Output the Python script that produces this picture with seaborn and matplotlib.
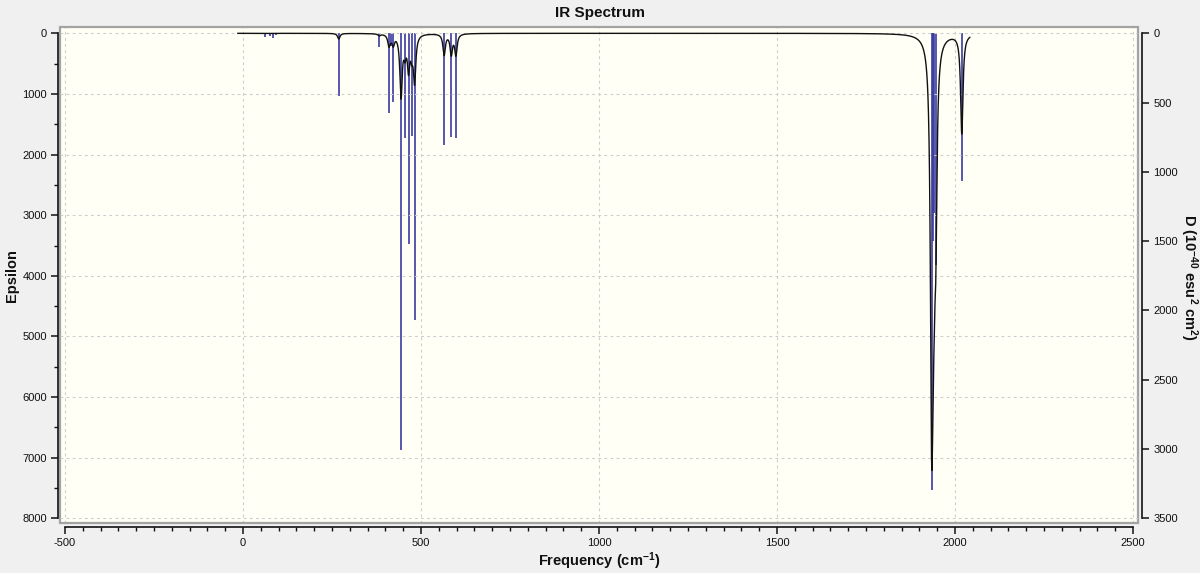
import numpy as np
import matplotlib
matplotlib.use("Agg")
import matplotlib.pyplot as plt
import seaborn as sns
from matplotlib.patches import Rectangle
from matplotlib.ticker import MultipleLocator

# ---- data ----
# IR stick frequencies (cm^-1) and dipole strengths D (1e-40 esu^2 cm^2)
stick_freq = [62, 76, 84, 93, 137, 151, 165, 269, 383, 410, 415, 422,
              444, 455, 465, 474, 482, 565, 585, 598,
              1934, 1937, 1941, 1946, 2019]
stick_D = [30, 22, 32, 15, 8, 6, 5, 451, 100, 576, 95, 494,
           3010, 758, 1521, 739, 2066, 806, 746, 758,
           3298, 1500, 1300, 1670, 1066]
# Lorentzian broadening used for the epsilon curve
hwhm = 4.0                 # cm^-1
eps_per_nuD = 7.6e-4       # peak epsilon per (cm^-1 * D unit)
curve_range = (-15, 2042)  # cm^-1 range of the drawn curve

x_ticks_major = 500
eps_ticks = [0, 1000, 2000, 3000, 4000, 5000, 6000, 7000, 8000]
d_ticks = [0, 500, 1000, 1500, 2000, 2500, 3000, 3500]

# ---- broadened spectrum from sticks ----
nu = np.linspace(curve_range[0], curve_range[1], 8000)
f = np.asarray(stick_freq, float)[:, None]
d = np.asarray(stick_D, float)[:, None]
eps = (eps_per_nuD * f * d / (1.0 + ((nu[None, :] - f) / hwhm) ** 2)).sum(axis=0)

# ---- styling ----
sns.set_theme(style="ticks")
plt.rcParams['font.family'] = ['Liberation Sans', 'DejaVu Sans']
plt.rcParams['mathtext.fontset'] = 'custom'
plt.rcParams['mathtext.rm'] = 'Liberation Sans'
plt.rcParams['mathtext.bf'] = 'Liberation Sans:bold'
plt.rcParams['mathtext.default'] = 'bf'
plt.rcParams['axes.unicode_minus'] = False

fig = plt.figure(figsize=(12, 5.73), dpi=100, facecolor='#f0f0f0')
ax_d = fig.add_axes([60 / 1200, 1 - 523.3 / 573, 1078 / 1200, 496 / 573])
ax_d.set_facecolor('#fffff6')
ax_eps = ax_d.twinx()

# sticks (right axis, D)
ax_d.vlines(stick_freq, 0, stick_D, color='#3a3aa0', lw=1.2, zorder=2)
# epsilon curve (left axis)
sns.lineplot(x=nu, y=eps, ax=ax_eps, color='#111111', lw=1.0,
             estimator=None, sort=False, zorder=3)

ax_d.set_xlim(-514, 2514)
ax_d.set_ylim(3536, -43.3)
ax_eps.set_ylim(8082, -99)

# axis placement
ax_d.yaxis.tick_right()
ax_d.yaxis.set_label_position('right')
ax_eps.yaxis.tick_left()
ax_eps.yaxis.set_label_position('left')

for s in ['top', 'left']:
    ax_d.spines[s].set_visible(False)
for s in ['top', 'right', 'bottom']:
    ax_eps.spines[s].set_visible(False)
ax_d.spines['right'].set_bounds(0, 3500)
ax_d.spines['right'].set_position(('outward', 3))
ax_d.spines['bottom'].set_bounds(-500, 2500)
ax_d.spines['bottom'].set_position(('outward', 2.5))
ax_eps.spines['left'].set_bounds(0, 8000)
ax_eps.spines['left'].set_position(('outward', 1.5))
for sp in [ax_d.spines['right'], ax_d.spines['bottom'], ax_eps.spines['left']]:
    sp.set_color('#111111')
    sp.set_linewidth(1.2)

# ticks
ax_d.set_xticks(np.arange(-500, 2501, x_ticks_major))
ax_d.xaxis.set_minor_locator(MultipleLocator(50))
ax_d.set_yticks(d_ticks)
ax_eps.set_yticks(eps_ticks)
ax_eps.yaxis.set_minor_locator(MultipleLocator(500))
ax_d.tick_params(axis='x', which='major', direction='out', length=5, width=1.1,
                 pad=3, labelsize=8, colors='#111111')
ax_d.tick_params(axis='x', which='minor', direction='out', length=3, width=1.0,
                 colors='#111111')
ax_d.tick_params(axis='y', which='major', direction='out', length=5, width=1.1,
                 pad=3, labelsize=8, colors='#111111')
ax_eps.tick_params(axis='y', which='major', direction='out', length=5, width=1.1,
                   pad=3, labelsize=8, colors='#111111')
ax_eps.tick_params(axis='y', which='minor', direction='out', length=3, width=1.0,
                   colors='#111111')

# grid
grid_kw = dict(color='#cdcdcd', lw=0.8, ls=(0, (2.5, 3)))
ax_d.grid(axis='x', which='major', **grid_kw)
ax_d.grid(axis='y', visible=False)
ax_eps.grid(axis='y', which='major', **grid_kw)
ax_eps.grid(axis='x', visible=False)
ax_d.set_axisbelow(True)
ax_eps.set_axisbelow(True)

# plot frame
ax_d.add_patch(Rectangle((0, 0), 1, 1, transform=ax_d.transAxes, fill=False,
                         ec='#a3a3a3', lw=1.6, clip_on=False, zorder=5))

# labels
ax_d.set_xlabel('Frequency (cm$^{-1}$)', fontsize=10.5, fontweight='bold',
                color='#111111', va='center')
ax_d.xaxis.set_label_coords(0.5, -(561 - 523.3) / 496)
ax_eps.set_ylabel('Epsilon', fontsize=10.5, fontweight='bold', color='#111111')
ax_eps.yaxis.set_label_coords(-(60 - 19) / 1078, 0.5)
ax_d.set_ylabel('D (10$^{-40}$ esu$^{2}$ cm$^{2}$)', fontsize=10.5,
                fontweight='bold', color='#111111', rotation=-90,
                va='center', ha='center')
ax_d.yaxis.set_label_coords((1189 - 60) / 1078, 0.495)

fig.text(0.5, 1 - 13 / 573, 'IR Spectrum', ha='center', va='center',
         fontsize=11, fontweight='bold', color='#111111')

fig.savefig('out.png', dpi=100, facecolor=fig.get_facecolor())
